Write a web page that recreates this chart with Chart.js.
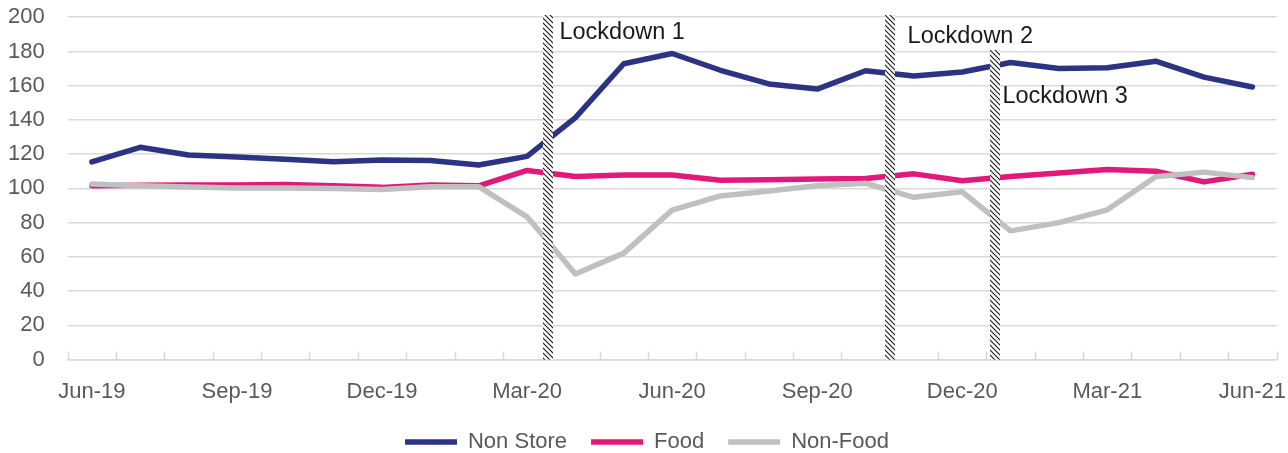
<!DOCTYPE html>
<html>
<head>
<meta charset="utf-8">
<script src="https://cdn.jsdelivr.net/npm/chart.js@4/dist/chart.umd.min.js"></script>
<style>
  html, body { margin: 0; padding: 0; background: #fff; }
  #wrap { width: 1288px; height: 453px; }
</style>
</head>
<body>
<div id="wrap"><canvas id="myChart"></canvas></div>
<script>
// DATOS
const months = ["Jun-19","Jul-19","Aug-19","Sep-19","Oct-19","Nov-19","Dec-19","Jan-20","Feb-20","Mar-20","Apr-20","May-20",
  "Jun-20","Jul-20","Aug-20","Sep-20","Oct-20","Nov-20","Dec-20","Jan-21","Feb-21","Mar-21","Apr-21","May-21","Jun-21"];
const nonStore = [115.5,124,119.5,118.3,117,115.5,116.6,116.3,113.7,118.7,141.3,172.8,178.8,169,161,158,168.7,165.6,168,173.5,170,170.5,174.3,165,159.2];
const food = [101.5,101.8,102,102,102.3,101.5,100.6,102,101.5,110.5,107,107.8,107.8,104.8,105,105.5,105.8,108.5,104.5,107,109,111,110,103.8,108.3];
const nonFood = [102.5,101.5,100.8,100.3,100.3,100,99.3,101,101,83.4,50,62.2,87.3,95.6,98.5,101.5,103,94.8,98,75.2,80,87.5,106.8,109.5,106.3];

// LOCKDOWNS (posicion en meses, altura en valor del eje)
const lockdownNames = ["Lockdown 1", "Lockdown 2", "Lockdown 3"];
const lockdownAt = [9.44, 16.51, 18.67];
const lockdownTop = [201, 201, 181];
const lockdownLabelX = [9.67, 16.87, 18.83];
const lockdownLabelY = [190.8, 189, 153.4];

const FONT = "'Liberation Sans', Arial, sans-serif";
const gridColor = "#d9d9d9";
const textColor = "#595959";

// PATRON RAYADO
function makeHatch() {
  const c = document.createElement("canvas");
  c.width = 5; c.height = 5;
  const g = c.getContext("2d");
  g.fillStyle = "#fff";
  g.fillRect(0, 0, 5, 5);
  g.strokeStyle = "#1a1a1a";
  g.lineWidth = 1.1;
  g.beginPath();
  g.moveTo(-1, -1); g.lineTo(6, 6);
  g.moveTo(-1, 4); g.lineTo(1, 6);
  g.moveTo(4, -1); g.lineTo(6, 1);
  g.stroke();
  return g.createPattern(c, "repeat");
}

const lockdownPlugin = {
  id: "lockdowns",
  afterDatasetsDraw(chart) {
    const { ctx, scales: { x, y } } = chart;
    const hatch = makeHatch();
    ctx.save();
    // marcas del eje hacia dentro
    ctx.strokeStyle = gridColor;
    ctx.lineWidth = 1.5;
    const base = y.getPixelForValue(0);
    for (let k = 0; k <= months.length; k++) {
      const px = Math.round(x.getPixelForValue(k - 0.5)) + 0.5;
      ctx.beginPath();
      ctx.moveTo(px, base);
      ctx.lineTo(px, base - 8);
      ctx.stroke();
    }
    // barras rayadas
    lockdownAt.forEach((v, i) => {
      const cx = Math.round(x.getPixelForValue(v));
      const top = Math.round(y.getPixelForValue(lockdownTop[i]));
      ctx.fillStyle = hatch;
      ctx.fillRect(cx - 5, top, 10, base - top);
    });
    // textos
    ctx.fillStyle = "#1a1a1a";
    ctx.font = "23.5px " + FONT;
    ctx.textAlign = "left";
    ctx.textBaseline = "middle";
    lockdownNames.forEach((name, i) => {
      ctx.fillText(name, x.getPixelForValue(lockdownLabelX[i]), y.getPixelForValue(lockdownLabelY[i]));
    });
    ctx.restore();
  }
};

const lineStyle = { borderWidth: 5.5, pointRadius: 0, tension: 0, borderCapStyle: "round", borderJoinStyle: "round" };

const datasets = [
  { label: "Non Store", data: nonStore, borderColor: "#2c3382", backgroundColor: "#2c3382", order: 1, ...lineStyle },
  { label: "Food", data: food, borderColor: "#e0197b", backgroundColor: "#e0197b", order: 3, ...lineStyle },
  { label: "Non-Food", data: nonFood, borderColor: "#c0c0c0", backgroundColor: "#c0c0c0", order: 2, ...lineStyle }
];

const config = {
  type: "line",
  data: { labels: months, datasets },
  options: {
    responsive: true,
    maintainAspectRatio: false,
    animation: false,
    layout: { padding: { left: 4, right: -2, top: 0, bottom: -10 } },
    scales: {
      x: {
        offset: true,
        grid: { display: true, drawOnChartArea: false, drawTicks: true, tickLength: 17, tickColor: "rgba(0,0,0,0)", offset: true },
        border: { display: true, color: gridColor, width: 1.5 },
        ticks: {
          autoSkip: false,
          maxRotation: 0,
          padding: 2,
          color: textColor,
          font: { family: FONT, size: 22 },
          callback: (v, i) => (i % 3 === 0 ? months[i] : "")
        }
      },
      y: {
        min: 0,
        max: 200,
        grid: { color: gridColor, lineWidth: 1.5, drawTicks: true, tickLength: 19, tickColor: "rgba(0,0,0,0)" },
        border: { display: false },
        ticks: {
          stepSize: 20,
          padding: 4,
          color: textColor,
          font: { family: FONT, size: 22 }
        }
      }
    },
    plugins: {
      tooltip: { enabled: false },
      legend: {
        position: "bottom",
        labels: {
          usePointStyle: true,
          pointStyle: "line",
          pointStyleWidth: 52,
          padding: 24,
          color: textColor,
          font: { family: FONT, size: 22 },
          sort: (a, b) => a.datasetIndex - b.datasetIndex
        }
      }
    }
  },
  plugins: [lockdownPlugin]
};

const myChart = document.getElementById("myChart");
window.grafica = new Chart(myChart, config);
</script>
</body>
</html>
